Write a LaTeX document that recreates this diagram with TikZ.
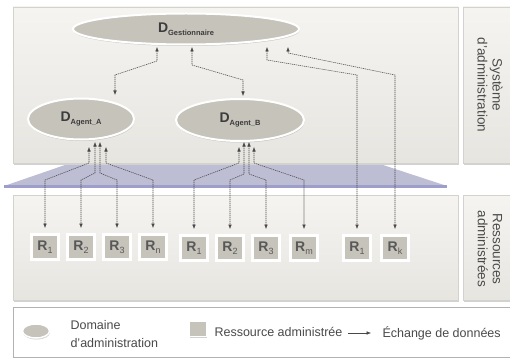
\documentclass[tikz,border=0pt]{standalone}
\usepackage{fontspec}
\setmainfont{Liberation Sans}
\usetikzlibrary{shapes.geometric,arrows.meta,shadows,calc}
\definecolor{panelT}{HTML}{F5F4F1}
\definecolor{panelB}{HTML}{E6E5E0}
\definecolor{panelE}{HTML}{D3D2CC}
\definecolor{ellF}{HTML}{C6C3BB}
\definecolor{txtD}{HTML}{3C3C3C}
\definecolor{txtR}{HTML}{585858}
\definecolor{txtL}{HTML}{4A4A4A}
\definecolor{trapF}{HTML}{BDBDD3}
\definecolor{trapL}{HTML}{9E9ECB}
\definecolor{lnk}{HTML}{484848}
\begin{document}
\begin{tikzpicture}[x=1pt,y=-1pt,
  panel/.style={draw=panelE, top color=panelT, bottom color=panelB,
    drop shadow={shadow xshift=1pt,shadow yshift=-1.5pt,fill=black!35,opacity=0.5}},
  dom/.style={ellipse, fill=ellF, draw=white, line width=2pt, inner sep=0pt,
    drop shadow={shadow xshift=0.5pt,shadow yshift=-1.5pt,fill=black!40,opacity=0.45},
    text=txtD},
  rbox/.style={rectangle, fill=ellF, draw=white, line width=3pt, inner sep=0pt,
    minimum width=27, minimum height=25, text=txtR,
    drop shadow={shadow xshift=0.8pt,shadow yshift=-1.2pt,fill=black!40,opacity=0.45},
    font=\fontsize{14}{14}\selectfont\bfseries},
  sidelbl/.style={rotate=-90, align=center, text=txtL, font=\fontsize{13.5}{15}\selectfont},
  leg/.style={text=txtL, font=\fontsize{12.5}{18}\selectfont, anchor=west, align=left},
  link/.style={draw=lnk, line width=0.55pt, dash pattern=on 1.2pt off 0.8pt,
    {Latex[length=4.5pt,width=3.6pt]}-{Latex[length=4.5pt,width=3.6pt]}},
  tobox/.style={link, shorten >=5pt}
]
\useasboundingbox (0,0) rectangle (510,358);

% panels
\path[panel] (13,7) rectangle (458,163);
\path[panel] (463,7) rectangle (520,163);
\path[panel] (13,195) rectangle (458,300);
\path[panel] (463,195) rectangle (520,300);

% trapezoid
\fill[trapF] (65,165) -- (383,165) -- (447,186) -- (4,186) -- cycle;
\draw[trapL, line width=3pt] (4,186) -- (447,186);

% side labels
\node[sidelbl] (sys) at (490,85) {Système\\d'administration};
\node[sidelbl] (res) at (490,249) {Ressources\\administrées};

% domains
\node[dom, minimum width=226, minimum height=31] (G) at (186,29)
  {{\fontsize{14}{14}\selectfont\bfseries D}{\fontsize{7.5}{8}\selectfont\bfseries\raisebox{-2.5pt}{Gestionnaire}}};
\node[dom, minimum width=106, minimum height=41] (A) at (81,119)
  {{\fontsize{14}{14}\selectfont\bfseries D}{\fontsize{7.5}{8}\selectfont\bfseries\raisebox{-2.5pt}{Agent\_A}}};
\node[dom, minimum width=128, minimum height=42] (B) at (240,120)
  {{\fontsize{14}{14}\selectfont\bfseries D}{\fontsize{7.5}{8}\selectfont\bfseries\raisebox{-2.5pt}{Agent\_B}}};

% resources
\newcommand{\rlab}[1]{R\raisebox{-3.5pt}{\fontsize{9}{9}\selectfont\mdseries #1}}
\node[rbox] (a1) at (45,247) {\rlab{1}};
\node[rbox] (a2) at (81,247) {\rlab{2}};
\node[rbox] (a3) at (117,247) {\rlab{3}};
\node[rbox] (a4) at (153,247) {\rlab{n}};
\node[rbox] (b1) at (194,248) {\rlab{1}};
\node[rbox] (b2) at (230,248) {\rlab{2}};
\node[rbox] (b3) at (266,248) {\rlab{3}};
\node[rbox] (b4) at (304,248) {\rlab{m}};
\node[rbox] (c1) at (357,248) {\rlab{1}};
\node[rbox] (c2) at (395,248) {\rlab{k}};

% connection points
\coordinate (gA) at (157,47);
\coordinate (gB) at (192,47);
\coordinate (gC) at (267,47);
\coordinate (gD) at (288,47);
\coordinate (At) at (115,95);
\coordinate (Bt) at (243,96);
\coordinate (A1) at (89,147);
\coordinate (A2) at (95,142);
\coordinate (A3) at (100,142);
\coordinate (A4) at (106,147);
\coordinate (B1) at (239,147);
\coordinate (B2) at (244,142);
\coordinate (B3) at (249,142);
\coordinate (B4) at (254,147);

% manager links
\draw[link] (gA) -- (gA |- 0,61) -- (At |- 0,75) -- (At);
\draw[link] (gB) -- (gB |- 0,65) -- (Bt |- 0,80) -- (Bt);
\draw[tobox] (gC) -- (gC |- 0,60) -- (c1.north |- 0,75) -- (c1.north);
\draw[tobox] (gD) -- (gD |- 0,53) -- (c2.north |- 0,75) -- (c2.north);

% agent A links
\draw[tobox] (A1) -- (A1 |- 0,163) -- (a1.north |- 0,180) -- (a1.north);
\draw[tobox] (A2) -- (A2 |- 0,173) -- (a2.north |- 0,180) -- (a2.north);
\draw[tobox] (A3) -- (A3 |- 0,173) -- (a3.north |- 0,180) -- (a3.north);
\draw[tobox] (A4) -- (A4 |- 0,163) -- (a4.north |- 0,180) -- (a4.north);
% agent B links
\draw[tobox] (B1) -- (B1 |- 0,163) -- (b1.north |- 0,180) -- (b1.north);
\draw[tobox] (B2) -- (B2 |- 0,174) -- (b2.north |- 0,180) -- (b2.north);
\draw[tobox] (B3) -- (B3 |- 0,174) -- (b3.north |- 0,180) -- (b3.north);
\draw[tobox] (B4) -- (B4 |- 0,163) -- (b4.north |- 0,180) -- (b4.north);

% legend
\draw[draw=black!30, line width=1pt, fill=white] (13,307) rectangle (520,357);
\node[dom, line width=1.5pt, minimum width=27, minimum height=14] (lgE) at (36,331) {};
\node[leg] (lgEt) at (67,334) {Domaine\\d'administration};
\node[rbox, line width=1.5pt, minimum width=17, minimum height=15] (lgB) at (198,329) {};
\node[leg] (lgBt) at (211,332) {Ressource administrée};
\coordinate (lgA1) at (348,333);
\coordinate (lgA2) at (371,333);
\draw[draw=lnk, line width=0.5pt, -{Latex[length=4.5pt,width=3.6pt]}] (lgA1) -- (lgA2);
\node[leg] (lgAt) at (379,333) {Échange de données};
\end{tikzpicture}
\end{document}
